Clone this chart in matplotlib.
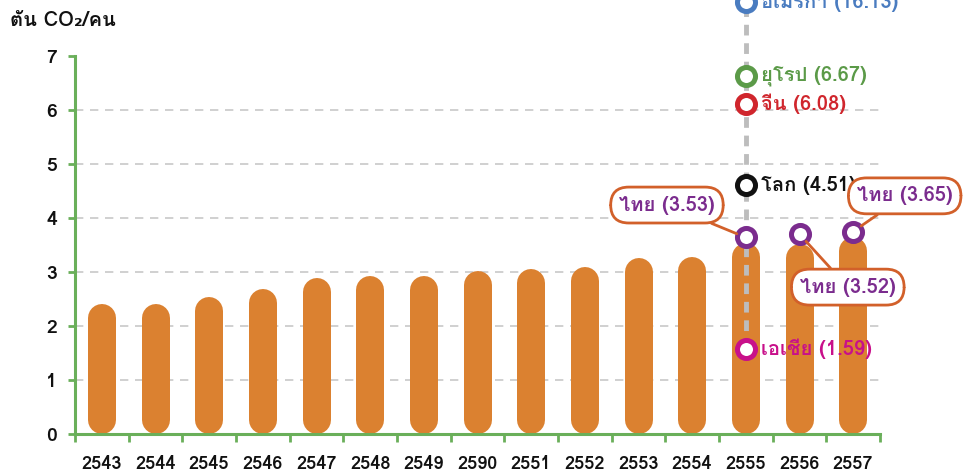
import matplotlib
matplotlib.use("Agg")
import matplotlib.pyplot as plt
from matplotlib import font_manager as fm
from matplotlib.ft2font import FT2Font

# ---- data ----
years = ["2543", "2544", "2545", "2546", "2547", "2548", "2549", "2590",
         "2551", "2552", "2553", "2554", "2555", "2556", "2557"]
thai_co2 = [2.41, 2.41, 2.54, 2.68, 2.89, 2.93, 2.93, 3.02,
            3.06, 3.09, 3.26, 3.28, 3.53, 3.52, 3.65]

# comparison points shown on the 2555 column
region_names = ["อเมริกา", "ยุโรป", "จีน", "โลก", "เอเชีย"]
region_values = [16.13, 6.67, 6.08, 4.51, 1.59]
region_marker_y = [8.0, 6.63, 6.11, 4.61, 1.57]   # where the markers sit on the plot
region_colors = ["#4a7cc0", "#5b9a48", "#d0262d", "#111111", "#c8108a"]

# Thai markers for the last three years
thai_idx = [12, 13, 14]
thai_marker_y = [3.64, 3.70, 3.75]
callout_xy = [(11.03, 4.24), (14.40, 2.72), (15.46, 4.41)]

BAR = "#db8130"
AXIS = "#6aaf5a"
PURPLE = "#7b2c8e"
CALLOUT = "#d2602a"


def thai_font():
    for f in fm.fontManager.ttflist:
        try:
            if 0x0E17 in FT2Font(f.fname).get_charmap():
                return f.name
        except Exception:
            pass
    return None


tf = thai_font()
fam = [tf, "DejaVu Sans"] if tf else ["DejaVu Sans"]
plt.rcParams["font.family"] = fam

W, H = 967, 471
fig = plt.figure(figsize=(W / 100, H / 100), dpi=100)
ax = fig.add_axes([75 / W, 37 / H, 805 / W, 378 / H])
n = len(years)
ax.set_xlim(0, n)
ax.set_ylim(0, 7)

xs = [i + 0.5 for i in range(n)]

# pill-shaped bars: thick lines with round caps
px_per_unit = 378 / 7
r = 14 / px_per_unit
bars = ax.vlines(xs, [r] * n, [v - r for v in thai_co2], colors=BAR,
                 linewidth=28 * 72 / 100, zorder=2)
bars.set_capstyle("round")

for y in range(1, 7):
    ax.axhline(y, color="#c8c8c8", lw=1.2, ls=(0, (5, 4)), zorder=1)

# dashed vertical guide on 2555
xg = xs[12]
ax.plot([xg, xg], [region_marker_y[-1], 8.2], color="#bdbdbd", lw=3.5,
        ls=(0, (2.2, 1.6)), zorder=3, clip_on=False)

for name, val, my, c in zip(region_names, region_values, region_marker_y, region_colors):
    ax.plot(xg, my, "o", ms=13, mfc="white", mec=c, mew=3.6, zorder=5, clip_on=False)
    ax.annotate(f"{name} ({val:.2f})", (xg, my), xytext=(11, 0),
                textcoords="offset points", va="center", ha="left",
                fontsize=14.5, fontweight="bold", color=c, annotation_clip=False,
                zorder=6)

for i, my, (bx, by) in zip(thai_idx, thai_marker_y, callout_xy):
    ax.plot(xs[i], my, "o", ms=13, mfc="white", mec=PURPLE, mew=3.6, zorder=5,
            clip_on=False)
    ax.annotate(f"ไทย ({thai_co2[i]:.2f})", (xs[i], my), xytext=(bx, by),
                textcoords="data", ha="center", va="center", fontsize=14.5,
                fontweight="bold", color=PURPLE, annotation_clip=False, zorder=7,
                bbox=dict(boxstyle="round,pad=0.42,rounding_size=0.9",
                          fc="white", ec=CALLOUT, lw=2),
                arrowprops=dict(arrowstyle="-", color=CALLOUT, lw=2,
                                shrinkA=0, shrinkB=7))

for s in ["top", "right"]:
    ax.spines[s].set_visible(False)
for s in ["left", "bottom"]:
    ax.spines[s].set_color(AXIS)
    ax.spines[s].set_linewidth(2.2)

ax.set_yticks(range(8))
ax.set_yticklabels([str(v) for v in range(8)], fontsize=14, fontweight="bold")
ax.tick_params(axis="y", colors=AXIS, length=5, width=2, labelcolor="#111111", pad=8)

ax.set_xticks(xs)
ax.set_xticklabels(years, fontsize=13, fontweight="bold")
ax.tick_params(axis="x", length=0, pad=15, labelcolor="#111111")
ax.set_xticks(range(n + 1), minor=True)
ax.tick_params(axis="x", which="minor", length=6, width=2, colors=AXIS)

fig.text(10 / W, 1 - 20 / H, "ตัน CO₂/คน", fontsize=14.5, fontweight="bold",
         color="#111111", va="center", ha="left")

fig.savefig("out.png", dpi=100)
